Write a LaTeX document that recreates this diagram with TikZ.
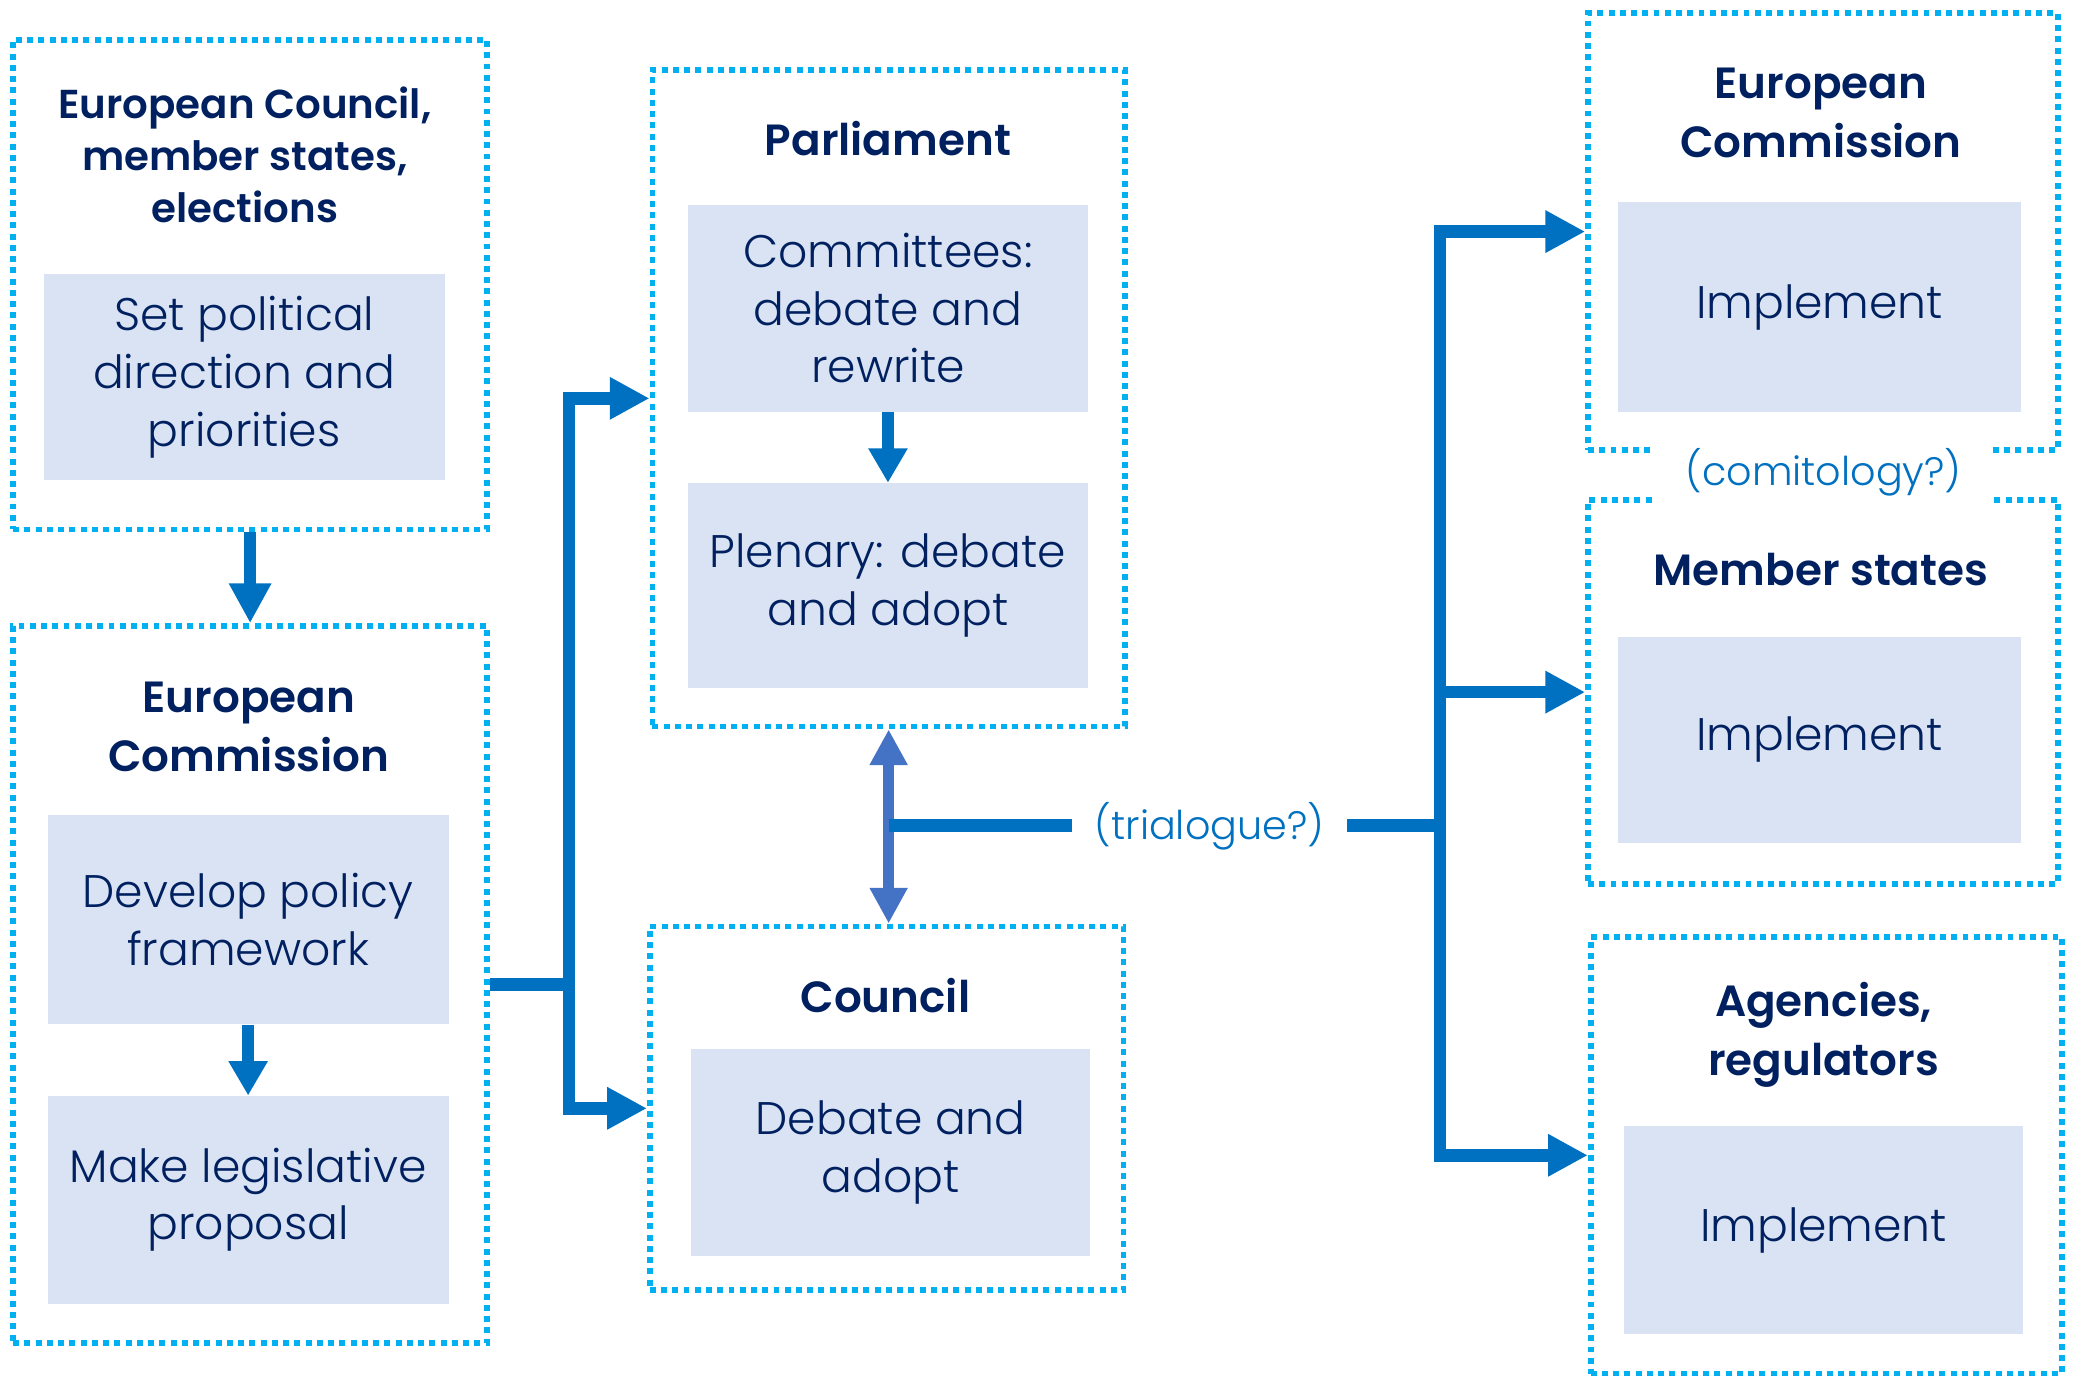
\documentclass[tikz,border=0pt]{standalone}
\usepackage{fontspec}
\usetikzlibrary{arrows.meta}
\IfFontExistsTF{Poppins Light}{\newfontfamily\bodyf{Poppins Light}}{\newfontfamily\bodyf{Poppins}}
\IfFontExistsTF{Poppins SemiBold}{\newfontfamily\titlef{Poppins SemiBold}}{\newfontfamily\titlef{Poppins Bold}}
\definecolor{dotc}{HTML}{00B0F0}
\definecolor{fillc}{HTML}{DAE3F3}
\definecolor{navy}{HTML}{002060}
\definecolor{arr}{HTML}{0070C0}
\definecolor{arrtwo}{HTML}{4472C4}
\begin{document}
\begin{tikzpicture}[x=1pt,y=-1pt,
  outer/.style={draw=dotc, line width=4.3pt, dash pattern=on 4.5pt off 4pt, inner sep=0pt},
  gbox/.style={fill=fillc, inner sep=0pt, minimum width=303pt, minimum height=157pt, align=center, text=navy, font=\bodyf\fontsize{34.5}{43.5}\selectfont},
  ttl/.style={align=center, text=navy, font=\titlef\fontsize{33}{44.5}\selectfont, inner sep=0pt},
  lbl/.style={text=arr, font=\bodyf\fontsize{30}{36}\selectfont, inner sep=0pt},
  conn/.style={draw=arr, line width=9.5pt},
  conna/.style={conn, -{Triangle[length=30pt,width=30pt]}},
  inarr/.style={draw=arr, line width=9pt, -{Triangle[length=26pt,width=28pt]}},
  dblarr/.style={draw=arrtwo, line width=8pt, {Triangle[length=27pt,width=27pt]}-{Triangle[length=27pt,width=27pt]}}
]
\useasboundingbox (0,0) rectangle (1568,1042);

% outer dotted boxes
\node[outer, minimum width=358pt, minimum height=370pt] (ecouncil) at (189,215) {};
\node[outer, minimum width=358pt, minimum height=542pt] (ecom) at (189,744) {};
\node[outer, minimum width=357pt, minimum height=496pt] (parl) at (671.5,301) {};
\node[outer, minimum width=358pt, minimum height=275pt] (council) at (670,837.5) {};
\node[outer, minimum width=355pt, minimum height=330pt] (recom) at (1377.5,175) {};
\node[outer, minimum width=355pt, minimum height=290pt] (ms) at (1377.5,523) {};
\node[outer, minimum width=356pt, minimum height=330pt] (ag) at (1380,873) {};

% titles
\node[ttl, font=\titlef\fontsize{30.5}{39}\selectfont] (t1) at (185,117) {European Council,\\member states,\\elections};
\node[ttl] (t2) at (188,549.5) {European\\Commission};
\node[ttl] (t3) at (671,105) {Parliament};
\node[ttl] (t4) at (669,752) {Council};
\node[ttl] (t5) at (1376,85) {European\\Commission};
\node[ttl] (t6) at (1376,430) {Member states};
\node[ttl] (t7) at (1378,782) {Agencies,\\regulators};

% grey boxes
\node[gbox, minimum height=156pt] (g1) at (184.5,285) {Set political\\direction and\\priorities};
\node[gbox, minimum height=158pt] (g2a) at (187.5,695) {Develop policy\\framework};
\node[gbox] (g2b) at (187.5,906.5) {Make legislative\\proposal};
\node[gbox, minimum width=302pt, minimum height=156pt] (g3a) at (671,233) {Committees:\\debate and\\rewrite};
\node[gbox, minimum width=302pt, minimum height=155pt] (g3b) at (671,442.5) {Plenary: debate\\and adopt};
\node[gbox, minimum width=302pt, minimum height=156pt] (g4) at (673,871) {Debate and\\adopt};
\node[gbox, minimum width=304pt, minimum height=158pt] (g5) at (1375,232) {Implement};
\node[gbox, minimum width=304pt, minimum height=156pt] (g6) at (1375,559) {Implement};
\node[gbox, minimum width=302pt] (g7) at (1378,929.5) {Implement};

% labels
\node[lbl, fill=white, minimum width=253pt, minimum height=46pt] (comit) at (1378,357) {(comitology?)};
\node[lbl, minimum width=208pt] (trial) at (914,624) {(trialogue?)};

% connectors
\draw[conna] (ecouncil.south) -- (ecom.north);
\draw[inarr] (g2a.south) -- (g2b.north);
\draw[inarr] (g3a.south) -- (g3b.north);

\coordinate (lj) at (430,744);
\draw[conn] (ecom.east) -- (lj);
\draw[conna] (lj) |- (parl.west);
\draw[conna] (lj) |- (council.west);

\draw[dblarr] (parl.south) -- (parl.south |- council.north);
\draw[conn, line width=10pt] (parl.south |- trial) -- (trial.west);

\coordinate (rj) at (1088,624);
\draw[conn, line width=10pt] (trial.east) -- (rj);
\draw[conna] (rj) |- (recom.west);
\draw[conna] (rj) |- (ms.west);
\draw[conna] (rj) |- (ag.west);
\end{tikzpicture}
\end{document}
